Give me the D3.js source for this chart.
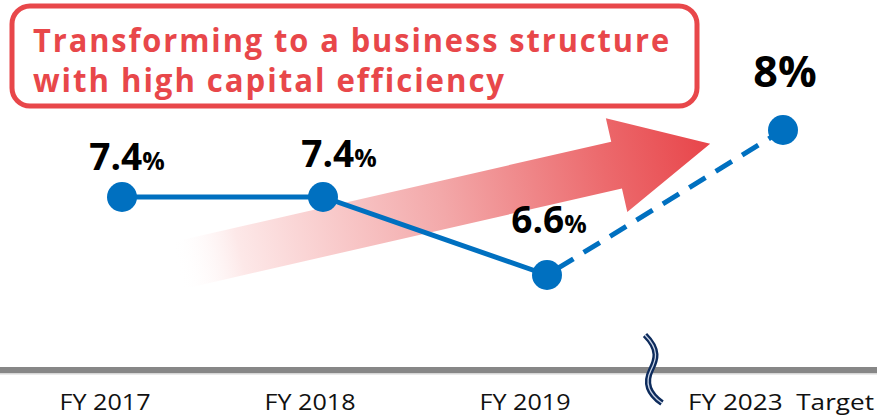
<!DOCTYPE html>
<html>
<head>
<meta charset="utf-8">
<script src="https://cdn.jsdelivr.net/npm/d3@7"></script>
<style>
  html, body { margin: 0; padding: 0; background: #fff; }
  svg { display: block; }
</style>
</head>
<body>
<svg id="chart" width="877" height="416"></svg>
<script>
// ---- data ----
const categories = ["FY2017", "FY2018", "FY2019", "FY2023"];
const tickLabels = ["FY 2017", "FY 2018", "FY 2019", "FY 2023\u00a0\u00a0Target"];
const roaValues = [7.4, 7.4, 6.6, 8.0];
const valueLabels = ["7.4", "7.4", "6.6", "8"];
const isTarget = [false, false, false, true];
const titleLines = ["Transforming to a business structure", "with high capital efficiency"];

// ---- layout ----
const svg = d3.select("#chart");
const W = 877, H = 416;
const red = "#e8474a";
const blue = "#0070c0";

const x = d3.scaleOrdinal().domain(categories).range([122, 323, 547, 783]);
const xLabel = d3.scaleOrdinal().domain(categories).range([105, 310, 525, 781]);
const y = d3.scaleLinear().domain([6.6, 7.4, 8.0]).range([275, 197, 130]);
const axisY = 370;

const defs = svg.append("defs");
const grad = defs.append("linearGradient").attr("id", "arrowGrad")
  .attr("gradientUnits", "userSpaceOnUse")
  .attr("x1", 0).attr("y1", 0).attr("x2", 548).attr("y2", 0);
grad.append("stop").attr("offset", 0).attr("stop-color", "#ffffff").attr("stop-opacity", 0);
grad.append("stop").attr("offset", 0.12).attr("stop-color", "#fde8e8").attr("stop-opacity", 1);
grad.append("stop").attr("offset", 0.5).attr("stop-color", "#f3a8a9");
grad.append("stop").attr("offset", 0.8).attr("stop-color", "#ec6a6d");
grad.append("stop").attr("offset", 1).attr("stop-color", "#e8454a");

// ---- big arrow ----
const shaftLen = 452, shaftHalf = 24, headLen = 96, headHalf = 48;
const arrowPts = [[0, -shaftHalf], [shaftLen, -shaftHalf], [shaftLen, -headHalf],
  [shaftLen + headLen, 0], [shaftLen, headHalf], [shaftLen, shaftHalf], [0, shaftHalf]];
svg.append("g")
  .attr("transform", "translate(176,266) rotate(-12.9)")
  .append("path")
  .attr("d", d3.line()(arrowPts) + "Z")
  .attr("fill", "url(#arrowGrad)");

// ---- axis line ----
svg.append("rect").attr("x", 0).attr("y", axisY - 3).attr("width", W).attr("height", 6).attr("fill", "#878787");
svg.append("rect").attr("x", 0).attr("y", axisY + 3).attr("width", W).attr("height", 1.5).attr("fill", "#d6d6d6");

// break mark
const brk = "M645,335 C660,350 656,360 651,370 C646,380 646,392 662,403";
svg.append("path").attr("d", brk).attr("fill", "none").attr("stroke", "#0d2b5c").attr("stroke-width", 6).attr("stroke-linecap", "butt");
svg.append("path").attr("d", brk).attr("fill", "none").attr("stroke", "#c8d3e6").attr("stroke-width", 1.3);

// tick labels
svg.append("g").selectAll("text").data(categories).join("text")
  .attr("x", d => xLabel(d))
  .attr("y", 410)
  .attr("text-anchor", "middle")
  .attr("font-family", "'Open Sans', sans-serif")
  .attr("font-size", 22)
  .attr("fill", "#111")
  .attr("textLength", (d, i) => i === 3 ? 186 : 91)
  .attr("lengthAdjust", "spacingAndGlyphs")
  .text((d, i) => tickLabels[i]);

// ---- line ----
const pts = categories.map((c, i) => ({ c, v: roaValues[i], t: isTarget[i], lab: valueLabels[i] }));
const lineGen = d3.line().x(d => x(d.c)).y(d => y(d.v));
const actual = pts.filter(d => !d.t);
const targetSeg = [pts[2], pts[3]];

svg.append("path").datum(actual).attr("d", lineGen)
  .attr("fill", "none").attr("stroke", blue).attr("stroke-width", 5);
svg.append("path").datum(targetSeg).attr("d", lineGen)
  .attr("fill", "none").attr("stroke", blue).attr("stroke-width", 5)
  .attr("stroke-dasharray", "19,12").attr("stroke-dashoffset", -12);

svg.append("g").selectAll("circle").data(pts).join("circle")
  .attr("cx", d => x(d.c)).attr("cy", d => y(d.v)).attr("r", 15)
  .attr("fill", blue);

// value labels
const lbl = svg.append("g").selectAll("text").data(pts).join("text")
  .attr("x", (d, i) => x(d.c) + [5, 16, 2, 2][i])
  .attr("y", (d, i) => d.t ? 87 : y(d.v) - [27, 30, 42, 0][i])
  .attr("text-anchor", "middle")
  .attr("font-family", "'Open Sans', sans-serif")
  .attr("font-weight", 700)
  .attr("fill", "#000");
lbl.append("tspan").attr("font-size", d => d.t ? 43 : 37).text(d => d.lab);
lbl.append("tspan").attr("font-size", d => d.t ? 43 : 25).text("%");

// ---- title box ----
svg.append("rect").attr("x", 12).attr("y", 6).attr("width", 685).attr("height", 100)
  .attr("rx", 18).attr("fill", "#fff").attr("stroke", red).attr("stroke-width", 5);
svg.append("g").selectAll("text").data(titleLines).join("text")
  .attr("x", 33)
  .attr("y", (d, i) => [52, 92][i])
  .attr("font-family", "'Open Sans', sans-serif")
  .attr("font-weight", 700)
  .attr("font-size", 32)
  .attr("letter-spacing", 2)
  .attr("fill", red)
  .attr("textLength", (d, i) => [638, 473][i])
  .attr("lengthAdjust", "spacingAndGlyphs")
  .text(d => d);
</script>
</body>
</html>
